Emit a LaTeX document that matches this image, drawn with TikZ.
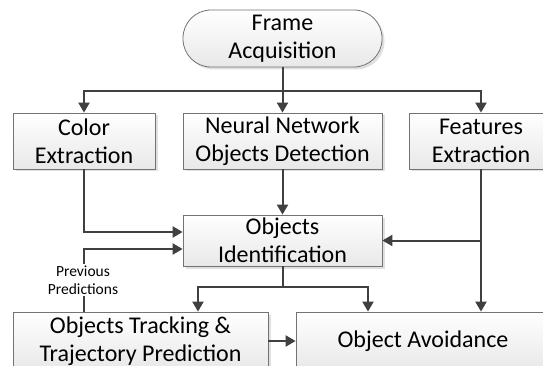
\documentclass[tikz,border=0pt]{standalone}
\usepackage{fontspec}
\setmainfont{Carlito}
\usetikzlibrary{arrows.meta,shadows}
\begin{document}
\begin{tikzpicture}[x=1pt,y=-1pt,
  box/.style={draw=black!55, line width=0.8pt, top color=white, bottom color=black!9,
    drop shadow={shadow xshift=2.5pt,shadow yshift=-2.5pt,fill=black!12,opacity=1},
    align=center, inner sep=0pt, font=\fontsize{24}{28}\selectfont},
  conn/.style={draw=black!75, line width=2pt, -{Triangle[length=10pt,width=11pt]}},
  plain/.style={draw=black!75, line width=2pt}]
\useasboundingbox (0,0) rectangle (543,366);
\clip (0,0) rectangle (543,366);
\fill[white] (0,0) rectangle (543,366);

\node[box, minimum width=199pt, minimum height=57pt, rounded corners=28pt] (frame) at (282.5,38.5) {Frame\\Acquisition};
\node[box, minimum width=142pt, minimum height=56pt] (color) at (84,141) {Color\\Extraction};
\node[box, minimum width=199pt, minimum height=56pt] (neural) at (282.5,141) {Neural Network\\Objects Detection};
\node[box, minimum width=144pt, minimum height=56pt] (feat) at (481,141) {Features\\Extraction};
\node[box, minimum width=199pt, minimum height=51pt] (ident) at (282.5,240.5) {Objects\\Identification};
\node[box, minimum width=255pt, minimum height=58pt] (track) at (140.5,341) {Objects Tracking \&\\Trajectory Prediction};
\node[box, minimum width=254pt, minimum height=58pt] (avoid) at (423,341) {Object Avoidance};

\coordinate (top) at (282.5,91);
\draw[plain] (frame.south) -- (top);
\draw[conn] (top) -- (neural.north);
\draw[conn] (top) -| (color.north);
\draw[conn] (top) -| (feat.north);

\draw[conn] (color.south) |- ([yshift=8.5pt]ident.west);
\draw[conn] (neural.south) -- (ident.north);
\draw[conn] (feat.south) -- (feat.south |- avoid.north);
\coordinate (fb) at (feat.south |- ident.east);
\draw[conn] (fb) -- (ident.east);

\coordinate (ib) at (282.5,287);
\draw[plain] (ident.south) -- (ib);
\draw[conn] (ib) -| ([xshift=57.5pt]track.north);
\draw[conn] (ib) -| ([xshift=-55pt]avoid.north);
\draw[conn] (track.east) -- (avoid.west);

\draw[conn] ([xshift=-56.5pt]track.north) |- ([yshift=-8.5pt]ident.west);
\node[fill=white, font=\fontsize{15.5}{18.5}\selectfont, align=center, inner sep=1pt] (prev) at (83,280) {Previous\\Predictions};
\end{tikzpicture}
\end{document}
